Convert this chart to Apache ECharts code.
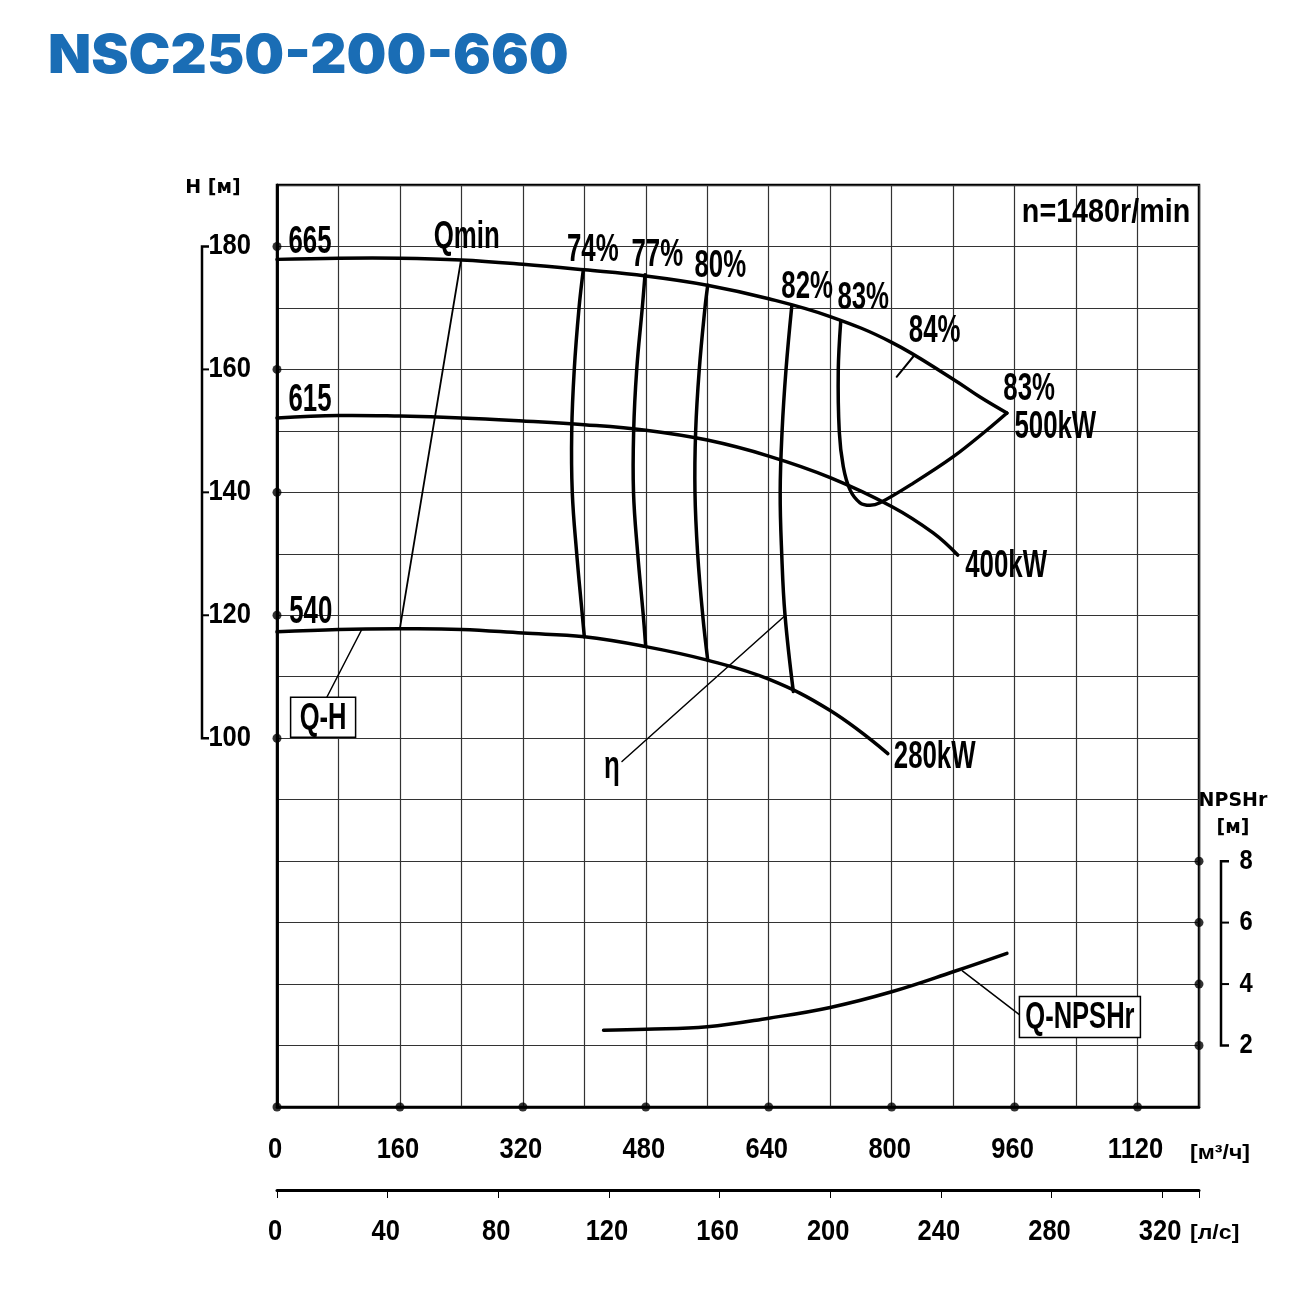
<!DOCTYPE html>
<html>
<head>
<meta charset="utf-8">
<script src="https://cdn.jsdelivr.net/npm/echarts@6/dist/echarts.min.js"></script>
<style>
html, body { margin: 0; padding: 0; background: #fff; }
#chart { width: 1310px; height: 1295px; }
</style>
</head>
<body>
<div id="chart"></div>
<script>
// ticks
const qTicks = [0, 160, 320, 480, 640, 800, 960, 1120]
const lsTicks = [0, 40, 80, 120, 160, 200, 240, 280, 320]
const hTicks = [100, 120, 140, 160, 180]
const npshTicks = [2, 4, 6, 8]

// Q-H curves (Q m3/h, H m)
const qh665 = [[0, 177.9], [80, 178.1], [160, 178.1], [240, 177.8], [320, 177.1], [400, 176.2], [480, 175.2], [560, 173.7], [640, 171.5], [720, 168.6], [800, 164.4], [880, 158.4], [915, 155.5], [950, 152.9]]
const qh615 = [[0, 152.1], [80, 152.5], [160, 152.4], [240, 152.1], [320, 151.6], [400, 151.0], [480, 150.1], [560, 148.5], [640, 145.9], [720, 142.4], [800, 137.7], [854, 133.4], [886, 129.8]]
const qh540 = [[0, 117.3], [80, 117.7], [160, 117.8], [240, 117.7], [320, 117.1], [400, 116.5], [480, 114.9], [560, 112.7], [640, 109.6], [720, 104.5], [795, 97.5]]

// efficiency lines
const eta74 = [[398.7, 176.2], [393.1, 170], [386.9, 160], [383.6, 150], [384.3, 140], [390.1, 130], [397.4, 120], [400, 116.5]]
const eta77 = [[479, 175.4], [475.4, 170], [468.2, 160], [464.2, 150], [464, 140], [469.5, 130], [476.7, 120], [479.9, 114.9]]
const eta80 = [[560.6, 173.7], [557, 170], [549.6, 160], [544.9, 150], [544, 140], [547.5, 130], [554.1, 120], [560.6, 112.7]]
const eta82 = [[669.9, 170.2], [662.5, 160], [657.4, 150], [654.9, 140], [656.9, 130], [661.2, 120], [672, 107.6]]
const eta83 = [[733.7, 167.8], [730.5, 159.9], [731.8, 149.9], [737, 144.2], [745.8, 140.4], [758.8, 138.3], [771.8, 137.9], [784.8, 138.3], [828.2, 141.5], [880.2, 145.8], [923.7, 150.1], [950, 152.9]]
const eta84 = [[806.5, 158.8], [828.2, 162.1]]

// NPSHr
const npsh = [[425, 2.5], [480, 2.53], [560, 2.61], [640, 2.89], [720, 3.24], [800, 3.75], [880, 4.4], [950, 5.0]]

// leader lines
const qminLine = [[239.5, 177.8], [160, 117.9]]
const qhLeader = [[110, 117.6], [65, 106.7]]
const etaLeader = [[660, 119.8], [449, 96.2]]
const npshLeader = [[892, 4.43], [967, 2.99]]

// text labels [text, Q, H]
const curveLabels = [
  ['665', 43, 180.6], ['615', 43, 155.0], ['540', 44, 120.5], ['Qmin', 247, 181.4],
  ['74%', 411, 179.4], ['77%', 495, 178.6], ['80%', 577, 176.7], ['82%', 690, 173.4],
  ['83%', 763, 171.6], ['84%', 856, 166.1], ['83%', 979, 156.8], ['500kW', 1013, 150.5],
  ['400kW', 949, 128.0], ['280kW', 856, 96.8], ['η', 436, 95.2]
]

const FONT = "'Liberation Sans', Arial, sans-serif"
const SANS = "'DejaVu Sans', sans-serif"

// one smooth polyline per curve, points placed by the axes (api.coord)
function curve(data, width, yIdx, smooth) {
  return {
    type: 'custom',
    xAxisIndex: 0,
    yAxisIndex: yIdx || 0,
    data: data,
    silent: true,
    z: 5,
    renderItem: (params, api) => {
      if (params.dataIndex !== 0) return null
      return {
        type: 'polyline',
        shape: { points: data.map(d => api.coord(d)), smooth: smooth === undefined ? 0.4 : smooth },
        style: { stroke: '#000', lineWidth: width, fill: null, lineJoin: 'round', lineCap: 'round' }
      }
    }
  }
}

function dots(data, yIdx) {
  return {
    type: 'scatter',
    data: data,
    yAxisIndex: yIdx || 0,
    symbolSize: 9,
    clip: false,
    silent: true,
    itemStyle: { color: '#000' },
    z: 10
  }
}

const chart = echarts.init(document.getElementById('chart'))
chart.setOption({
  animation: false,
  backgroundColor: '#fff',
  grid: { left: 277, top: 185, width: 922, height: 922, show: true, borderColor: '#000', borderWidth: 2.5 },
  xAxis: [{
    type: 'value', min: 0, max: 1200, interval: 80,
    axisLine: { lineStyle: { color: '#000', width: 2.5 } },
    axisTick: { show: false },
    splitLine: { lineStyle: { color: '#333', width: 1.2 } },
    axisLabel: { show: false }
  }, {
    type: 'value', position: 'bottom', offset: 83, min: 0, max: 1200 / 3.6, interval: 40,
    axisLine: { onZero: false, lineStyle: { color: '#000', width: 3 } },
    axisTick: { show: true, length: 8, lineStyle: { color: '#000', width: 1 } },
    splitLine: { show: false },
    axisLabel: { show: false }
  }],
  yAxis: [{
    type: 'value', min: 40, max: 190, interval: 10,
    axisLine: { show: true, lineStyle: { color: '#000', width: 2.5 } },
    axisTick: { show: false },
    splitLine: { lineStyle: { color: '#333', width: 1.2 } },
    axisLabel: { show: false }
  }, {
    type: 'value', position: 'right', min: 0, max: 30, interval: 2,
    axisLine: { show: true, lineStyle: { color: '#000', width: 2.5 } },
    axisTick: { show: false },
    splitLine: { show: false },
    axisLabel: { show: false }
  }],
  series: [
    curve(qh665, 3.5), curve(qh615, 3.5), curve(qh540, 3.5),
    curve(eta74, 3.5), curve(eta77, 3.5), curve(eta80, 3.5), curve(eta82, 3.5),
    curve(eta83, 3.5, 0, 0.35), curve(eta84, 2, 0, 0),
    curve(npsh, 3.5, 1),
    curve(qminLine, 1.8, 0, 0), curve(qhLeader, 1.5, 0, 0),
    curve(etaLeader, 1.5, 0, 0), curve(npshLeader, 1.5, 1, 0),
    dots(hTicks.map(h => [0, h])),
    dots(qTicks.map(q => [q, 40])),
    dots(npshTicks.map(n => [1200, n]), 1)
  ]
})

// annotations placed through the axes
const px = (q, h) => chart.convertToPixel({ xAxisIndex: 0, yAxisIndex: 0 }, [q, h])
const pxN = (q, n) => chart.convertToPixel({ xAxisIndex: 0, yAxisIndex: 1 }, [q, n])
const graphics = []

// condensed text: font scaled horizontally
function txt(text, x, y, font, sx, align, fill) {
  graphics.push({
    type: 'text', z: 20, silent: true, x: x, y: y, scaleX: sx || 1,
    style: { text: text, x: 0, y: 0, font: font, fill: fill || '#000', align: align || 'center', verticalAlign: 'middle' }
  })
}

// tick labels
const TICK = 'bold 29px ' + FONT
qTicks.forEach(q => txt(String(q), px(q, 40)[0] - 2, 1150, TICK, 0.88))
lsTicks.forEach(v => txt(String(v), chart.convertToPixel({ xAxisIndex: 1 }, v) - 2, 1232, TICK, 0.88))
hTicks.forEach(h => txt(String(h), 251, px(0, h)[1], TICK, 0.88, 'right'))
npshTicks.forEach(n => txt(String(n), 1246, pxN(0, n)[1], 'bold 27px ' + FONT, 0.88))

curveLabels.forEach(l => {
  const p = px(l[1], l[2])
  txt(l[0], p[0], p[1], 'bold 38px ' + FONT, 0.68)
})
const pn = px(1079, 185.4)
txt('n=1480r/min', pn[0], pn[1], 'bold 33px ' + FONT, 0.87)

// boxed labels
function box(text, c, w, h) {
  graphics.push({
    type: 'rect', z: 19, silent: true,
    shape: { x: c[0] - w / 2, y: c[1] - h / 2, width: w, height: h },
    style: { fill: '#fff', stroke: '#000', lineWidth: 1.5 }
  })
  txt(text, c[0], c[1] + 1, 'bold 37px ' + FONT, 0.69)
}
box('Q-H', px(60, 103.4), 65, 40)
box('Q-NPSHr', pxN(1045, 2.93), 121, 41)

// left H bracket
const yTop = px(0, 180)[1], yBot = px(0, 100)[1]
const bx = 202
graphics.push({ type: 'polyline', silent: true, shape: { points: [[bx + 7, yTop], [bx, yTop], [bx, yBot], [bx + 7, yBot]] }, style: { stroke: '#000', lineWidth: 2.5, fill: null } })
;[120, 140, 160].forEach(h => {
  const y = px(0, h)[1]
  graphics.push({ type: 'line', silent: true, shape: { x1: bx, y1: y, x2: bx + 7, y2: y }, style: { stroke: '#000', lineWidth: 2 } })
})

// right NPSH bracket
const nTop = pxN(0, 8)[1], nBot = pxN(0, 2)[1]
const rx = 1221
graphics.push({ type: 'polyline', silent: true, shape: { points: [[rx + 8, nTop], [rx, nTop], [rx, nBot], [rx + 8, nBot]] }, style: { stroke: '#000', lineWidth: 2.5, fill: null } })
;[4, 6].forEach(n => {
  const y = pxN(0, n)[1]
  graphics.push({ type: 'line', silent: true, shape: { x1: rx, y1: y, x2: rx + 8, y2: y }, style: { stroke: '#000', lineWidth: 2 } })
})

// axis titles
txt('H [м]', 213, 188, 'bold 19px ' + SANS, 1)
txt('NPSHr', 1233, 801, 'bold 19px ' + SANS, 1)
txt('[м]', 1233, 828, 'bold 19px ' + SANS, 1)
txt('[м³/ч]', 1190, 1153, 'bold 21px ' + FONT, 1.1, 'left')
txt('[л/с]', 1190, 1233, 'bold 21px ' + FONT, 1.1, 'left')

// title
txt('NSC250-200-660', 48, 57, '900 54px Inter, "Open Sans", sans-serif', 1.04, 'left', '#1a6db5')

chart.setOption({ graphic: graphics })
</script>
</body>
</html>
